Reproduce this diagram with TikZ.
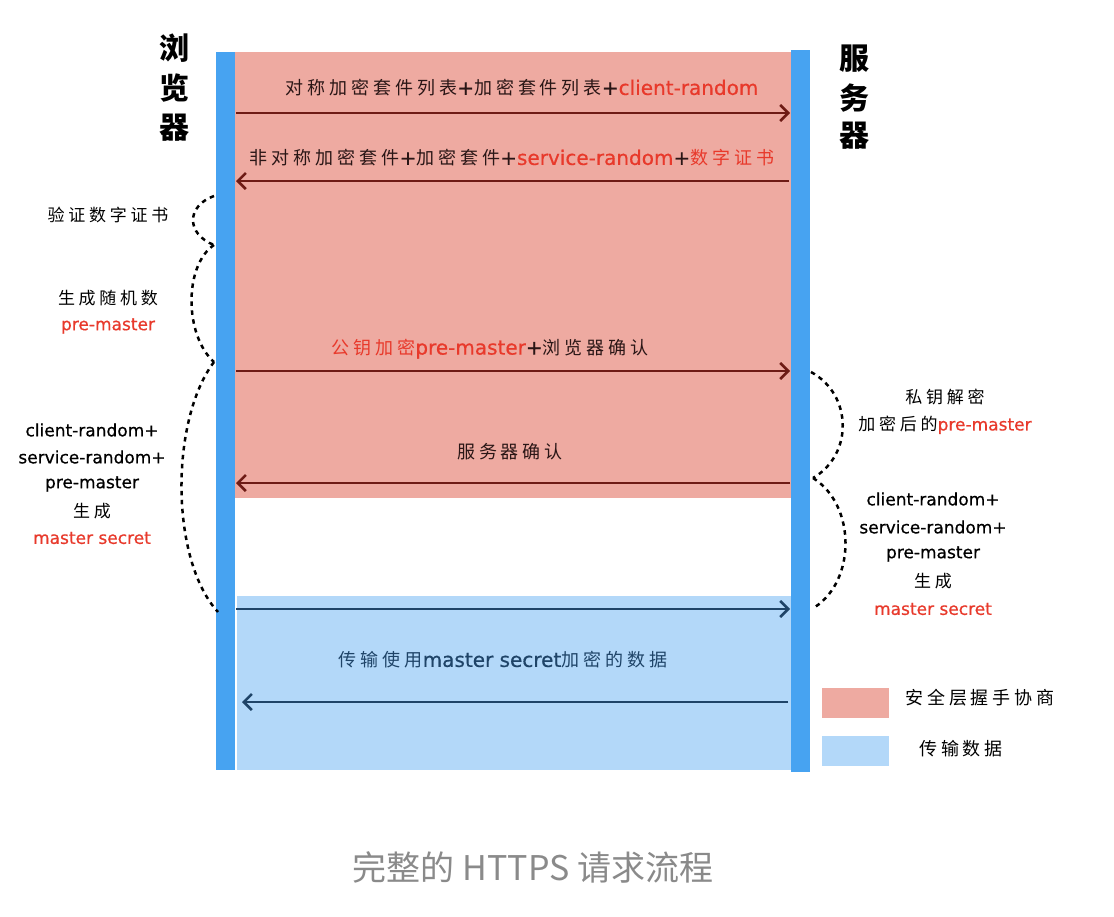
\documentclass[tikz,border=0pt]{standalone}
\usepackage{fontspec}
\setmainfont{DejaVu Sans}[UprightFeatures={FakeBold=0.6}]
\newfontfamily\zhfont[LetterSpace=22]{Noto Sans CJK SC}
\newfontfamily\capfont{Noto Sans CJK SC}
\newcommand{\zh}[1]{{\zhfont #1}}
\newcommand{\zs}[1]{{\fontsize{18}{22}\selectfont\zhfont #1}}
\usetikzlibrary{arrows.meta}
\definecolor{hspink}{HTML}{EEAAA1}
\definecolor{tdblue}{HTML}{B3D8F9}
\definecolor{barblue}{HTML}{47A3F1}
\definecolor{hired}{HTML}{E8392B}
\definecolor{arrred}{HTML}{6E1B15}
\definecolor{arrblue}{HTML}{1F4468}
\definecolor{lbltext}{HTML}{2A1616}
\definecolor{captiongray}{HTML}{8A8A8A}
\newcommand{\rd}[1]{\textcolor{hired}{#1}}
\begin{document}
\begin{tikzpicture}[x=1pt,y=-1pt,
  msg/.style={line width=2.6pt, draw=arrred, -{Straight Barb[length=8pt,width=16pt]}},
  msgb/.style={msg, draw=arrblue},
  lbl/.style={font=\fontsize{20}{24}\selectfont, text=lbltext, inner sep=0pt},
  side/.style={font=\fontsize{17}{20}\selectfont, text=black, inner sep=0pt},
  title/.style={font=\fontsize{30}{34}\selectfont\zhfont\bfseries, text=black, inner sep=0pt},
  brace/.style={black, line width=2.5pt, dash pattern=on 4.5pt off 4.5pt},
  bar/.style={fill=barblue, draw=none, inner sep=0pt, minimum width=19pt, anchor=north west},
  legbox/.style={draw=none, inner sep=0pt, minimum width=67pt, minimum height=30pt, anchor=north west}]
\useasboundingbox (0,0) rectangle (1114,916);
\fill[white] (0,0) rectangle (1114,916);
% regions
\fill[hspink] (235,52) rectangle (791,498);
\fill[tdblue] (237,596) rectangle (791,770);
% bars
\node[bar, minimum height=718pt] (lbar) at (216,52) {};
\node[bar, minimum height=722pt] (rbar) at (791,50) {};
% titles
\node[title] (b1) at (174,48) {浏};
\node[title] (b2) at (174,88) {览};
\node[title] (b3) at (174,128) {器};
\node[title] (s1) at (854,59) {服};
\node[title] (s2) at (854,98) {务};
\node[title] (s3) at (854,136) {器};
% arrow end points
\coordinate (a1s) at (236,113); \coordinate (a1e) at (790,113);
\coordinate (a2s) at (789,181); \coordinate (a2e) at (236,181);
\coordinate (a3s) at (236,371); \coordinate (a3e) at (790,371);
\coordinate (a4s) at (790,483); \coordinate (a4e) at (236,483);
\coordinate (a5s) at (236,609); \coordinate (a5e) at (790,609);
\coordinate (a6s) at (788,702); \coordinate (a6e) at (242,702);
\draw[msg] (a1s) -- (a1e);
\draw[msg] (a2s) -- (a2e);
\draw[msg] (a3s) -- (a3e);
\draw[msg] (a4s) -- (a4e);
\draw[msgb] (a5s) -- (a5e);
\draw[msgb] (a6s) -- (a6e);
% arrow labels
\node[lbl] (l1) at (522,88) {\zs{对称加密套件列表}+\zs{加密套件列表}+\rd{client-random}};
\node[lbl] (l2) at (512,158) {\zs{非对称加密套件}+\zs{加密套件}+\rd{service-random}+\rd{\zs{数字证书}}};
\node[lbl] (l3) at (490,349) {\rd{\zs{公钥加密}pre-master}+\zs{浏览器确认}};
\node[lbl] (l4) at (510,452) {\zs{服务器确认}};
\node[lbl, text=arrblue] (l5) at (503,660) {\zs{传输使用}master secret\zs{加密的数据}};
% left curves
\coordinate (c1) at (214,196); \coordinate (c2) at (214,245);
\coordinate (c3) at (214,362); \coordinate (c4) at (218,612);
\draw[brace] (c1) .. controls (186,206) and (186,234) .. (c2);
\draw[brace] (c2) .. controls (184,265) and (184,335) .. (c3);
\draw[brace] (c3) .. controls (170,420) and (170,560) .. (c4);
% right curves
\coordinate (d1) at (811,372); \coordinate (d2) at (813,478); \coordinate (d3) at (815,607);
\draw[brace] (d1) .. controls (853,395) and (853,455) .. (d2);
\draw[brace] (d2) .. controls (856,505) and (856,580) .. (d3);
% left labels
\node[side] (t1) at (108,215) {\zh{验证数字证书}};
\node[side] (t2) at (108,298) {\zh{生成随机数}};
\node[side, text=hired] (t3) at (108,326) {pre-master};
\node[side] (t4) at (92,430) {client-random+};
\node[side] (t5) at (92,457) {service-random+};
\node[side] (t6) at (92,484) {pre-master};
\node[side] (t7) at (92,511) {\zh{生成}};
\node[side, text=hired] (t8) at (92,538) {master secret};
% right labels
\node[side] (r1) at (945,397) {\zh{私钥解密}};
\node[side] (r2) at (945,425) {\zh{加密后的}\rd{pre-master}};
\node[side] (r3) at (933,499) {client-random+};
\node[side] (r4) at (933,527) {service-random+};
\node[side] (r5) at (933,554) {pre-master};
\node[side] (r6) at (933,581) {\zh{生成}};
\node[side, text=hired] (r7) at (933,609) {master secret};
% legend
\node[legbox, fill=hspink] (g1) at (822,688) {};
\node[legbox, fill=tdblue] (g2) at (822,736) {};
\node[lbl, text=black, font=\fontsize{18}{22}\selectfont] (g1t) at (980,698) {\zh{安全层握手协商}};
\node[lbl, text=black, font=\fontsize{18}{22}\selectfont] (g2t) at (961,749) {\zh{传输数据}};
% caption
\node[inner sep=0pt, text=captiongray, font=\fontsize{34}{40}\selectfont\capfont] (cap) at (533,867) {完整的 HTTPS 请求流程};
\end{tikzpicture}
\end{document}
